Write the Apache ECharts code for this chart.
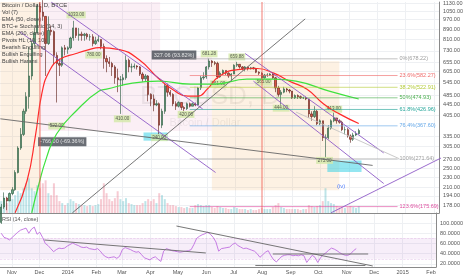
<!DOCTYPE html>
<html><head><meta charset="utf-8">
<script src="https://cdn.jsdelivr.net/npm/echarts@6/dist/echarts.min.js"></script>
<style>html,body{margin:0;padding:0;background:#fff}#c{width:466px;height:275px}</style>
</head><body><div id="c"></div><script>
// ---- data (3-day candles, mid dates) ----
const dates = ['2013-10-20','2013-10-23','2013-10-26','2013-10-29','2013-11-01','2013-11-04','2013-11-07','2013-11-10','2013-11-13','2013-11-16','2013-11-19','2013-11-22','2013-11-25','2013-11-28','2013-12-01','2013-12-04','2013-12-07','2013-12-10','2013-12-13','2013-12-16','2013-12-19','2013-12-22','2013-12-25','2013-12-28','2013-12-31','2014-01-03','2014-01-06','2014-01-09','2014-01-12','2014-01-15','2014-01-18','2014-01-21','2014-01-24','2014-01-27','2014-01-30','2014-02-02','2014-02-05','2014-02-08','2014-02-11','2014-02-14','2014-02-17','2014-02-20','2014-02-23','2014-02-26','2014-03-01','2014-03-04','2014-03-07','2014-03-10','2014-03-13','2014-03-16','2014-03-19','2014-03-22','2014-03-25','2014-03-28','2014-03-31','2014-04-03','2014-04-06','2014-04-09','2014-04-12','2014-04-15','2014-04-18','2014-04-21','2014-04-24','2014-04-27','2014-04-30','2014-05-03','2014-05-06','2014-05-09','2014-05-12','2014-05-15','2014-05-18','2014-05-21','2014-05-24','2014-05-27','2014-05-30','2014-06-02','2014-06-05','2014-06-08','2014-06-11','2014-06-14','2014-06-17','2014-06-20','2014-06-23','2014-06-26','2014-06-29','2014-07-02','2014-07-05','2014-07-08','2014-07-11','2014-07-14','2014-07-17','2014-07-20','2014-07-23','2014-07-26','2014-07-29','2014-08-01','2014-08-04','2014-08-07','2014-08-10','2014-08-13','2014-08-16','2014-08-19','2014-08-22','2014-08-25','2014-08-28','2014-08-31','2014-09-03','2014-09-06','2014-09-09','2014-09-12','2014-09-15','2014-09-18','2014-09-21','2014-09-24','2014-09-27','2014-09-30','2014-10-03','2014-10-06','2014-10-09','2014-10-12','2014-10-15','2014-10-18','2014-10-21','2014-10-24','2014-10-27','2014-10-30','2014-11-02','2014-11-05','2014-11-08','2014-11-11'];
const firstOpen = 152;
const closes = [175,190,185,198,205,240,300,340,420,480,580,780,860,1100,1040,1000,780,880,870,700,650,640,750,740,750,820,900,840,850,840,850,830,830,780,800,810,760,680,660,650,630,570,560,560,570,670,630,630,635,630,590,565,580,490,470,445,450,370,420,530,500,490,450,440,455,435,430,450,440,450,445,520,570,575,630,665,655,650,575,595,610,595,580,590,640,645,630,620,630,620,625,620,600,595,570,585,585,590,570,520,490,500,515,510,505,475,485,480,475,475,470,410,400,420,375,385,330,330,360,385,395,385,380,355,355,335,325,338,342,352];
const highs = [180,200,192,200,210,245,305,360,430,500,755,800,900,1120,1135,1160,1000,1000,920,880,720,680,760,770,760,830,960,900,900,870,860,860,850,850,830,840,810,780,700,690,660,640,620,580,590,700,680,650,650,640,635,600,590,585,495,490,465,455,430,540,540,510,495,460,460,455,440,455,455,455,455,525,580,600,635,680,670,665,660,605,615,610,600,595,645,660,645,635,635,630,630,630,625,605,600,590,595,595,595,575,530,510,525,520,515,505,490,490,485,480,480,470,420,440,425,390,385,340,370,390,415,395,390,385,365,360,340,345,350,358];
const lows = [150,172,170,185,195,203,238,295,335,410,430,560,760,860,920,960,580,770,840,640,455,580,630,700,710,740,800,820,800,800,800,810,800,760,770,790,740,620,600,630,580,540,500,410,530,560,600,600,620,615,580,550,550,460,440,420,440,340,360,410,480,480,440,425,435,425,420,425,435,440,440,445,510,560,565,615,630,640,565,570,585,585,570,555,590,630,620,610,605,610,615,615,595,585,565,565,575,580,565,500,480,445,495,500,495,470,470,470,470,470,465,395,385,395,370,370,320,275,325,355,380,375,375,350,340,330,315,320,335,340];
const volumes = [12,15,10,12,14,18,22,20,25,30,35,25,22,28,25,30,33,20,18,30,18,12,10,8,10,14,12,10,9,8,8,7,8,7,8,9,14,30,20,14,12,15,22,14,12,15,10,9,8,8,8,10,12,14,12,14,10,20,18,14,10,8,8,7,6,6,5,6,5,5,8,9,8,7,8,8,6,5,7,6,5,5,4,4,6,5,4,4,4,3,4,3,3,4,5,4,4,4,6,8,10,6,5,4,4,4,4,4,3,4,4,8,7,6,7,8,12,25,12,10,9,7,6,6,5,6,7,6,5,7];
const rsi = [80,72,70,67,72,77,82,86,88,90,80,88,92,78,82,72,60,56,50,44,48,51,50,51,55,58,61,58,56,53,52,53,50,49,48,50,45,38,34,32,33,34,31,35,48,52,50,48,45,43,44,38,32,30,28,32,34,29,25,45,50,48,46,45,44,43,44,45,46,48,58,70,74,77,79,82,78,72,63,45,50,51,52,53,58,61,56,53,50,51,49,47,45,40,33,38,43,46,36,28,24,30,35,37,38,38,36,37,36,38,36,23,30,37,33,23,32,38,42,47,51,49,46,42,39,37,37,40,46,50];
const ema50 = [['2013-11-04',166],['2013-11-17',223],['2013-11-26',336],['2013-12-03',496],['2013-12-11',606],['2013-12-22',674],['2014-01-09',712],['2014-01-23',738],['2014-02-03',752],['2014-02-25',738],['2014-03-18',674],['2014-04-08',568],['2014-04-26',505],['2014-05-10',482],['2014-05-21',482],['2014-05-31',514],['2014-06-13',578],['2014-07-03',615],['2014-07-24',621],['2014-08-11',595],['2014-08-28',553],['2014-09-16',514],['2014-10-04',449],['2014-10-21',410],['2014-11-11',375.5]];
const ema200 = [['2013-11-22',166],['2013-11-28',204],['2013-12-08',275],['2013-12-19',342],['2014-01-09',421],['2014-02-03',505],['2014-02-11',514],['2014-03-11',543],['2014-04-08',553],['2014-05-13',538],['2014-06-08',538],['2014-07-13',563],['2014-08-11',563],['2014-09-04',553],['2014-10-10',505],['2014-11-11',469.88]];
const priceTicks = [1130,1050,970,890,810,730,655,605,545,485,445,405,335,305,270,250,230,210,194,178];
const rsiTicks = [100,80,60,40,20];
const monthTicks = ['2013-11-01','2013-12-01','2014-01-01','2014-02-01','2014-03-01','2014-04-01','2014-05-01','2014-06-01','2014-07-01','2014-08-01','2014-09-01','2014-10-01','2014-11-01','2014-12-01','2015-01-01','2015-02-01'];
const monthLabels = ['Nov','Dec','2014','Feb','Mar','Apr','May','Jun','Jul','Aug','Sep','Oct','Nov','Dec','2015','Feb'];
const fibLevels = [['0%',678.22,'#9e9e9e'],['23.6%',582.27,'#ef6c6c'],['38.2%',522.91,'#b5cc3a'],['50%',474.93,'#4caf50'],['61.8%',426.96,'#26a69a'],['76.4%',367.60,'#64a8e8'],['100%',271.64,'#9e9e9e'],['123.6%',175.69,'#e04fa0']];
const fibRange = ['2014-05-12','2014-12-23'];
const trendLines = [
  [['2013-12-13',1140],['2014-05-26',429],'#8e5bc7'],
  [['2013-11-09',869],['2014-06-09',240],'#8e5bc7'],
  [['2014-07-11',712],['2014-12-08',287],'#8e5bc7'],
  [['2014-07-20',553],['2014-12-08',217],'#8e5bc7'],
  [['2014-10-12',166],['2015-02-09',275],'#8e5bc7'],
  [['2013-10-19',392],['2014-11-26',256],'#666'],
  [['2014-01-05',166],['2014-09-14',977],'#666'],
  [['2014-09-04',417],['2014-12-25',272],'#c4c4c4']
];
const rsiLines = [
  [['2013-12-06',66.8],['2014-05-31',41.5]],
  [['2014-04-29',94.1],['2014-11-29',16.1]],
  [['2014-08-12',39.5],['2014-11-24',39.5]],
  [['2014-07-24',17.1],['2014-11-21',17.1]]
];
const zones = [
  [['2013-10-19',1140],['2013-12-01',204],'rgba(245,166,80,0.16)'],
  [['2013-12-01',1140],['2014-04-10',351],'rgba(225,120,170,0.12)'],
  [['2014-04-10',697],['2014-06-05',351],'rgba(225,120,170,0.10)'],
  [['2014-06-05',663],['2014-10-21',204],'rgba(245,166,80,0.16)'],
  [['2014-03-23',346],['2014-04-18',321],'rgba(60,210,230,0.55)'],
  [['2014-10-08',268],['2014-11-14',241],'rgba(60,210,230,0.55)']
];
const vLines = ['2013-12-01','2014-07-29'];
const pivots = [
  ['2014-01-09',1014,'1033.00'],['2014-01-28',702,'780.00'],['2013-12-19',367,'522.00'],
  ['2014-02-28',392,'410.00'],['2014-05-08',408,'420.00'],['2014-04-09',330,'340.00'],
  ['2014-06-02',710,'681.28'],['2014-07-02',690,'659.88'],['2014-06-12',540,'561.00'],
  ['2014-07-31',548,'565.00'],['2014-08-19',432,'444.00'],['2014-10-15',428,'413.00'],
  ['2014-10-05',268,'275.00']
];
const measures = [['2013-12-25',318,'-766.00 (-69.36%)'],['2014-04-25',702,'327.06 (93.82%)']];
const lastValues = [[469.88,'469.88','#00e000','#000'],[375.5,'375.50','#ff1a1a','#fff'],[350,'350.00','#4e7d63','#fff']];

// ---- build ----
const T = s => { const [y,m,d] = s.split('-').map(Number); return Date.UTC(y, m-1, d, 12); };
const M = s => { const [y,m,d] = s.split('-').map(Number); return Date.UTC(y, m-1, d); };
const xMin = Date.UTC(2013,9,19,3), xMax = Date.UTC(2015,1,6,12);
const opens = [firstOpen].concat(closes.slice(0,-1));
const candleData = dates.map((d,i)=>[T(d), opens[i], closes[i], lows[i], highs[i]]);
const volData = dates.map((d,i)=>({value:[T(d), volumes[i]], itemStyle:{color: closes[i]>=opens[i]?'rgba(100,190,200,0.42)':'rgba(235,130,150,0.42)'}}));
const FONT = 'Liberation Sans, Arial, sans-serif';
const tickVals = monthTicks.map(M);
const series = [];
series.push({type:'line', xAxisIndex:0, yAxisIndex:0, data:[], silent:true,
  markArea:{silent:true, data: zones.map(z=>[{coord:[T(z[0][0]),z[0][1]], itemStyle:{color:z[2]}},{coord:[T(z[1][0]),z[1][1]]}])},
  markLine:{silent:true, symbol:'none', label:{show:false}, lineStyle:{color:'rgba(240,80,70,0.5)', width:1.5, type:'solid'}, data: vLines.map(v=>({xAxis:T(v)}))}
});
series.push({type:'bar', xAxisIndex:0, yAxisIndex:1, data:volData, barWidth:2, silent:true});
series.push({type:'candlestick', xAxisIndex:0, yAxisIndex:0, data:candleData, encode:{x:0,y:[1,2,3,4]}, barWidth:1.8,
  itemStyle:{color:'#6ba583', color0:'#d75442', borderColor:'#225437', borderColor0:'#5b1a13', borderWidth:0.6}});
series.push({type:'line', xAxisIndex:0, yAxisIndex:0, data:ema50.map(p=>[T(p[0]),p[1]]), smooth:true, symbol:'none', lineStyle:{color:'#ff2a2a', width:1.2}});
series.push({type:'line', xAxisIndex:0, yAxisIndex:0, data:ema200.map(p=>[T(p[0]),p[1]]), smooth:true, symbol:'none', lineStyle:{color:'#3ee23e', width:1.2}});
fibLevels.forEach(f=>{
  series.push({type:'line', xAxisIndex:0, yAxisIndex:0, symbol:'none', clip:false,
    data:[[T(fibRange[0]),f[1]],[T(fibRange[1]),f[1]]], lineStyle:{color:f[2], width:0.8, opacity:0.8},
    endLabel:{show:true, formatter: f[0]+'('+f[1].toFixed(2)+')', color:f[2], fontSize:5.5, fontFamily:FONT, distance:2}});
});
trendLines.forEach(l=>{
  series.push({type:'line', xAxisIndex:0, yAxisIndex:0, symbol:'none', silent:true,
    data:[[T(l[0][0]),l[0][1]],[T(l[1][0]),l[1][1]]], lineStyle:{color:l[2], width:0.9}});
});
series.push({type:'scatter', xAxisIndex:0, yAxisIndex:0, symbolSize:0, silent:true,
  data: pivots.map(p=>({value:[T(p[0]),p[1]], label:{formatter:p[2]}})),
  label:{show:true, position:'inside', fontSize:4.5, fontFamily:FONT, color:'#333', backgroundColor:'#d3e8a8', padding:[1,1.5]}});
series.push({type:'scatter', xAxisIndex:0, yAxisIndex:0, symbolSize:0, silent:true,
  data: measures.map(p=>({value:[T(p[0]),p[1]], label:{formatter:p[2]}})),
  label:{show:true, position:'inside', fontSize:5.5, fontFamily:FONT, color:'#fff', backgroundColor:'#454a52', padding:[1.5,2]}});
series.push({type:'scatter', xAxisIndex:0, yAxisIndex:0, symbolSize:0, silent:true,
  data:[{value:[T('2014-10-23'),211], label:{formatter:'(iv)'}}],
  label:{show:true, position:'inside', fontSize:6, fontFamily:FONT, color:'#2962ff'}});
series.push({type:'line', xAxisIndex:0, yAxisIndex:0, data:[], silent:true,
  markLine:{silent:true, symbol:'none', lineStyle:{opacity:0},
    data: lastValues.map(v=>({yAxis:v[0], label:{show:true, position:'end', formatter:v[1], backgroundColor:v[2], color:v[3], fontSize:5.5, fontFamily:FONT, padding:[1,2], distance:1}}))}});
// RSI
series.push({type:'line', xAxisIndex:1, yAxisIndex:2, data:dates.map((d,i)=>[T(d),rsi[i]]), symbol:'none', lineStyle:{color:'#c06ee0', width:0.9},
  markArea:{silent:true, itemStyle:{color:'rgba(156,39,176,0.08)'}, data:[[{yAxis:70},{yAxis:30}]]},
  markLine:{silent:true, symbol:'none', label:{show:false}, lineStyle:{color:'rgba(156,39,176,0.25)', width:0.6, type:'dashed'}, data:[{yAxis:70},{yAxis:30}]}
});
rsiLines.forEach(l=>{
  series.push({type:'line', xAxisIndex:1, yAxisIndex:2, symbol:'none', silent:true,
    data:[[T(l[0][0]),l[0][1]],[T(l[1][0]),l[1][1]]], lineStyle:{color:'#666', width:0.9}});
});
series.push({type:'line', xAxisIndex:1, yAxisIndex:2, data:[], silent:true,
  markLine:{silent:true, symbol:'none', lineStyle:{opacity:0},
    data:[{yAxis:50.2, label:{show:true, position:'end', formatter:'50.2208', backgroundColor:'#9c27b0', color:'#fff', fontSize:5.5, fontFamily:FONT, padding:[1,2], distance:1}}]}});
series.push({type:'line', xAxisIndex:0, yAxisIndex:1, data:[], silent:true,
  markLine:{silent:true, symbol:'none', lineStyle:{opacity:0},
    data:[{yAxis:3, label:{show:true, position:'end', formatter:'98.2036', backgroundColor:'#2196f3', color:'#fff', fontSize:5.5, fontFamily:FONT, padding:[1,2], distance:1}}]}});

const legendLines = ['Bitcoin / Dollar, D, BTCE','Vol (7)','EMA (50, close)','BTC-e Stochastic (14, 3)','EMA (200, close)','Pivots HL (10, 10)','Bearish Engulfing','Bullish Engulfing','Bullish Harami'];
const graphic = [
  {type:'text', x:210, y:97, silent:true, z:1, style:{text:'BTCUSD, D', font:'26px '+FONT, fill:'rgba(0,0,0,0.07)', textAlign:'center', textVerticalAlign:'middle'}},
  {type:'text', x:205, y:123, silent:true, z:1, style:{text:'Bitcoin / Dollar', font:'11px '+FONT, fill:'rgba(0,0,0,0.07)', textAlign:'center', textVerticalAlign:'middle'}},
  {type:'text', x:2, y:219, silent:true, z:5, style:{text:'RSI (14, close)', font:'5.5px '+FONT, fill:'#555', textVerticalAlign:'middle'}}
].concat(legendLines.map((t,i)=>({type:'text', x:2, y:5+i*7, silent:true, z:5, style:{text:t, font:(i===0?'6px ':'5.5px ')+FONT, fill:'#444', textVerticalAlign:'middle'}})));

const splitStyle = {show:true, lineStyle:{color:'#eef0f3', width:1}};
const option = {
  animation:false,
  backgroundColor:'#fff',
  grid:[{left:0, right:22, top:0, height:213}, {left:0, right:22, top:213, height:54}],
  xAxis:[
    {type:'value', gridIndex:0, min:xMin, max:xMax, axisLabel:{show:false}, axisTick:{show:false, customValues:tickVals}, axisLine:{show:true, lineStyle:{color:'#8a8a8a'}}, splitLine:splitStyle},
    {type:'value', gridIndex:1, min:xMin, max:xMax, axisTick:{show:false, customValues:tickVals}, axisLine:{show:true, lineStyle:{color:'#8a8a8a'}}, splitLine:splitStyle,
      axisLabel:{customValues:tickVals, formatter:(v)=>{const i=tickVals.indexOf(v); return i>=0?monthLabels[i]:'';}, fontSize:5.5, fontFamily:FONT, color:'#555', margin:2, hideOverlap:false}}
  ],
  yAxis:[
    {type:'log', gridIndex:0, position:'right', min:165.7, max:1140, axisLine:{show:true, lineStyle:{color:'#8a8a8a'}}, axisTick:{show:false, customValues:priceTicks}, splitLine:splitStyle,
      axisLabel:{customValues:priceTicks, formatter:v=>v.toFixed(2), fontSize:5.5, fontFamily:FONT, color:'#555', margin:4, hideOverlap:false}},
    {type:'value', gridIndex:0, min:0, max:213, show:false, splitLine:{show:false}},
    {type:'value', gridIndex:1, position:'right', min:14.1, max:119.5, axisLine:{show:true, lineStyle:{color:'#8a8a8a'}}, axisTick:{show:false, customValues:rsiTicks}, splitLine:splitStyle,
      axisLabel:{customValues:rsiTicks, formatter:v=>v.toFixed(4), fontSize:5.5, fontFamily:FONT, color:'#555', margin:4, hideOverlap:false}}
  ],
  graphic: graphic,
  series: series
};
const chart = echarts.init(document.getElementById('c'));
chart.setOption(option);
</script></body></html>
